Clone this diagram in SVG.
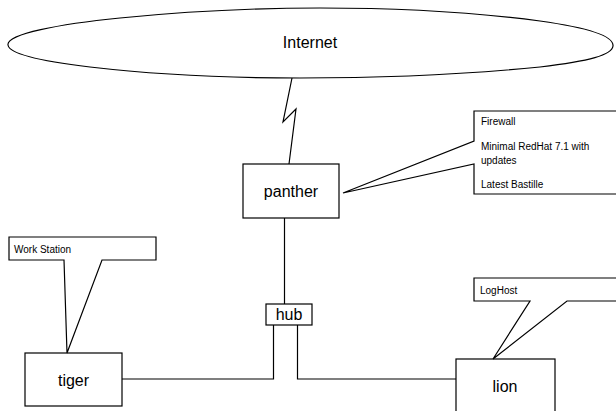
<svg xmlns="http://www.w3.org/2000/svg" width="616" height="411" viewBox="0 0 616 411">
<style>
.s{fill:#fff;stroke:#000;stroke-width:1.2;stroke-linejoin:miter}
.c{fill:none;stroke:#000;stroke-width:1.2}
.big{font-family:"Liberation Sans",Arial,sans-serif;font-size:16px;fill:#000;text-anchor:middle}
.sm{font-family:"Liberation Sans",Arial,sans-serif;font-size:10px;fill:#000}
</style>
<rect width="616" height="411" fill="#fff"/>
<g id="connectors">
<polyline class="c" points="292,78 283,122 296,109 289,164"/>
<line class="c" x1="284.5" y1="218" x2="284.5" y2="304"/>
<polyline class="c" points="273.5,325 273.5,379 122,379"/>
<polyline class="c" points="297.5,325 297.5,379 456,379"/>
</g>
<g id="internet">
<path class="s" d="M8,45 C6,34 60,24 120,18 C190,11 260,8 320,8 C400,8 480,13 540,21 C590,28 614,36 613,46 C612,55 590,61 540,67 C470,74 390,78 300,78 C220,78 150,74 90,67 C40,61 9,54 8,45 Z"/>
<text class="big" x="310" y="48">Internet</text>
</g>
<g id="panther">
<rect class="s" x="243" y="164" width="96" height="54"/>
<text class="big" x="291" y="197">panther</text>
</g>
<g id="panther-note">
<path class="s" d="M474,111 L640,111 L640,194 L474,194 L474,164 L343,193 L474,141 Z"/>
<text class="sm" x="481" y="124.5">Firewall</text>
<text class="sm" x="481" y="150">Minimal RedHat 7.1 with</text>
<text class="sm" x="481" y="163.5">updates</text>
<text class="sm" x="481" y="187.5">Latest Bastille</text>
</g>
<g id="hub">
<rect class="s" x="266" y="304" width="46" height="21"/>
<text class="big" x="289" y="320">hub</text>
</g>
<g id="tiger">
<rect class="s" x="25" y="353" width="97" height="53"/>
<text class="big" x="73.5" y="386">tiger</text>
</g>
<g id="tiger-note">
<path class="s" d="M9,237 L156,237 L156,260 L102,260 L67,353 L64,260 L9,260 Z"/>
<text class="sm" x="14" y="252.5">Work Station</text>
</g>
<g id="lion">
<rect class="s" x="456" y="359" width="99" height="60"/>
<text class="big" x="505" y="392">lion</text>
</g>
<g id="lion-note">
<path class="s" d="M474,278 L640,278 L640,301 L567,301 L493,359 L530,301 L474,301 Z"/>
<text class="sm" x="480" y="294">LogHost</text>
</g>
</svg>
